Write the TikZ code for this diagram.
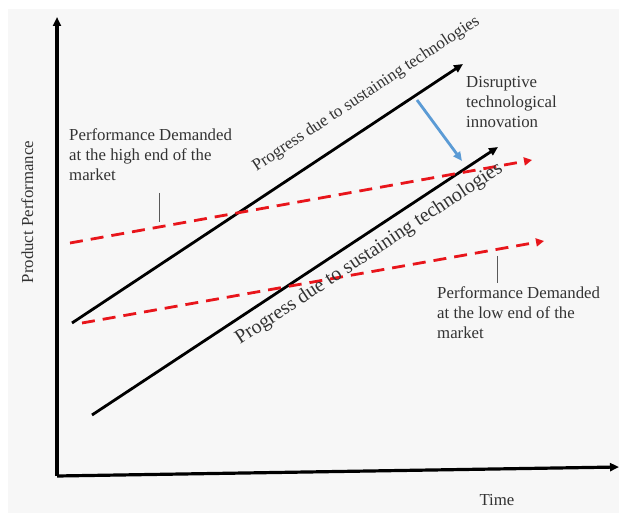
\documentclass[tikz,border=0pt]{standalone}
\usepackage{fontspec}
\setmainfont{LiberationSerif}[Extension=.ttf, UprightFont=*-Regular, BoldFont=*-Bold]
\usepackage{xcolor}
\usepackage{tikz}
\usetikzlibrary{arrows.meta}
\usetikzlibrary{positioning}

\definecolor{bgray}{HTML}{F7F7F7}
\definecolor{txtgray}{HTML}{333333}
\definecolor{dred}{HTML}{E8151B}
\definecolor{dblue}{HTML}{5B9BD5}

\begin{document}
\begin{tikzpicture}[x=1pt, y=-1pt, >={Triangle[length=9pt,width=8pt]},
	axis/.style={->, line width=3.2pt},
	tech/.style={->, line width=2.8pt},
	demand/.style={->, line width=2.8pt, dred, dash pattern=on 13pt off 8pt,
				>={Triangle[length=8pt,width=8pt]}},
	jump/.style={->, line width=2.8pt, dblue},
	tick/.style={line width=0.7pt, black!65},
	lbl/.style={font=\rmfamily\fontsize{16.8}{20}\selectfont, text=txtgray, align=left,
				inner sep=0pt, anchor=north west},
	prog/.style={text=txtgray, inner sep=0pt, anchor=base west},
]
\useasboundingbox (0,0) rectangle (619,513);
\fill [bgray] (8,9) rectangle (619,513);
% axes
\coordinate (O)  at (57,476);
\coordinate (YT) at (57,17);
\coordinate (XT) at (619,467);
\draw [axis] (O) -- (YT);
\draw [axis] (O) -- (XT);
% sustaining technologies
\coordinate (H1) at (72,323);
\coordinate (H2) at (463,64);
\coordinate (L1) at (92,415);
\coordinate (L2) at (498,147);
\draw [tech] (H1) -- (H2);
\draw [tech] (L1) -- (L2);
% demanded performance
\coordinate (DH1) at (70,243);
\coordinate (DH2) at (532,160);
\coordinate (DL1) at (82,323);
\coordinate (DL2) at (544,241);
\draw [demand] (DH1) -- (DH2);
\draw [demand] (DL1) -- (DL2);
% disruptive jump
\coordinate (B1) at (417,100);
\coordinate (B2) at (462,161);
\draw [jump] (B1) -- (B2);
% label ticks
\coordinate (TH1) at (159,193);
\coordinate (TH2) at (159,222);
\coordinate (TL1) at (497,256);
\coordinate (TL2) at (497,283);
\draw [tick] (TH1) -- (TH2);
\draw [tick] (TL1) -- (TL2);
%
\node [lbl] (high) at (69,128.5) {Performance Demanded\\at the high end of the\\market};
\node [lbl] (low)  at (437,286.5) {Performance Demanded\\at the low end of the\\market};
\node [lbl] (disr) at (466,76.5) {Disruptive\\technological\\innovation};
\node [prog, rotate=33.5, font=\rmfamily\fontsize{17}{20}\selectfont] (ph) at (256.5,171.5)
	{Progress due to sustaining technologies};
\node [prog, rotate=33.4, font=\rmfamily\fontsize{20}{24}\selectfont] (pl) at (240,345)
	{Progress due to sustaining technologies};
\node [text=txtgray, inner sep=0pt, anchor=base, font=\rmfamily\fontsize{16.8}{20}\selectfont]
	(time) at (497,505) {Time};
\node [text=txtgray, inner sep=0pt, anchor=base, rotate=90, font=\rmfamily\fontsize{16.8}{20}\selectfont]
	(perf) at (33,212) {Product Performance};
\end{tikzpicture}
\end{document}
